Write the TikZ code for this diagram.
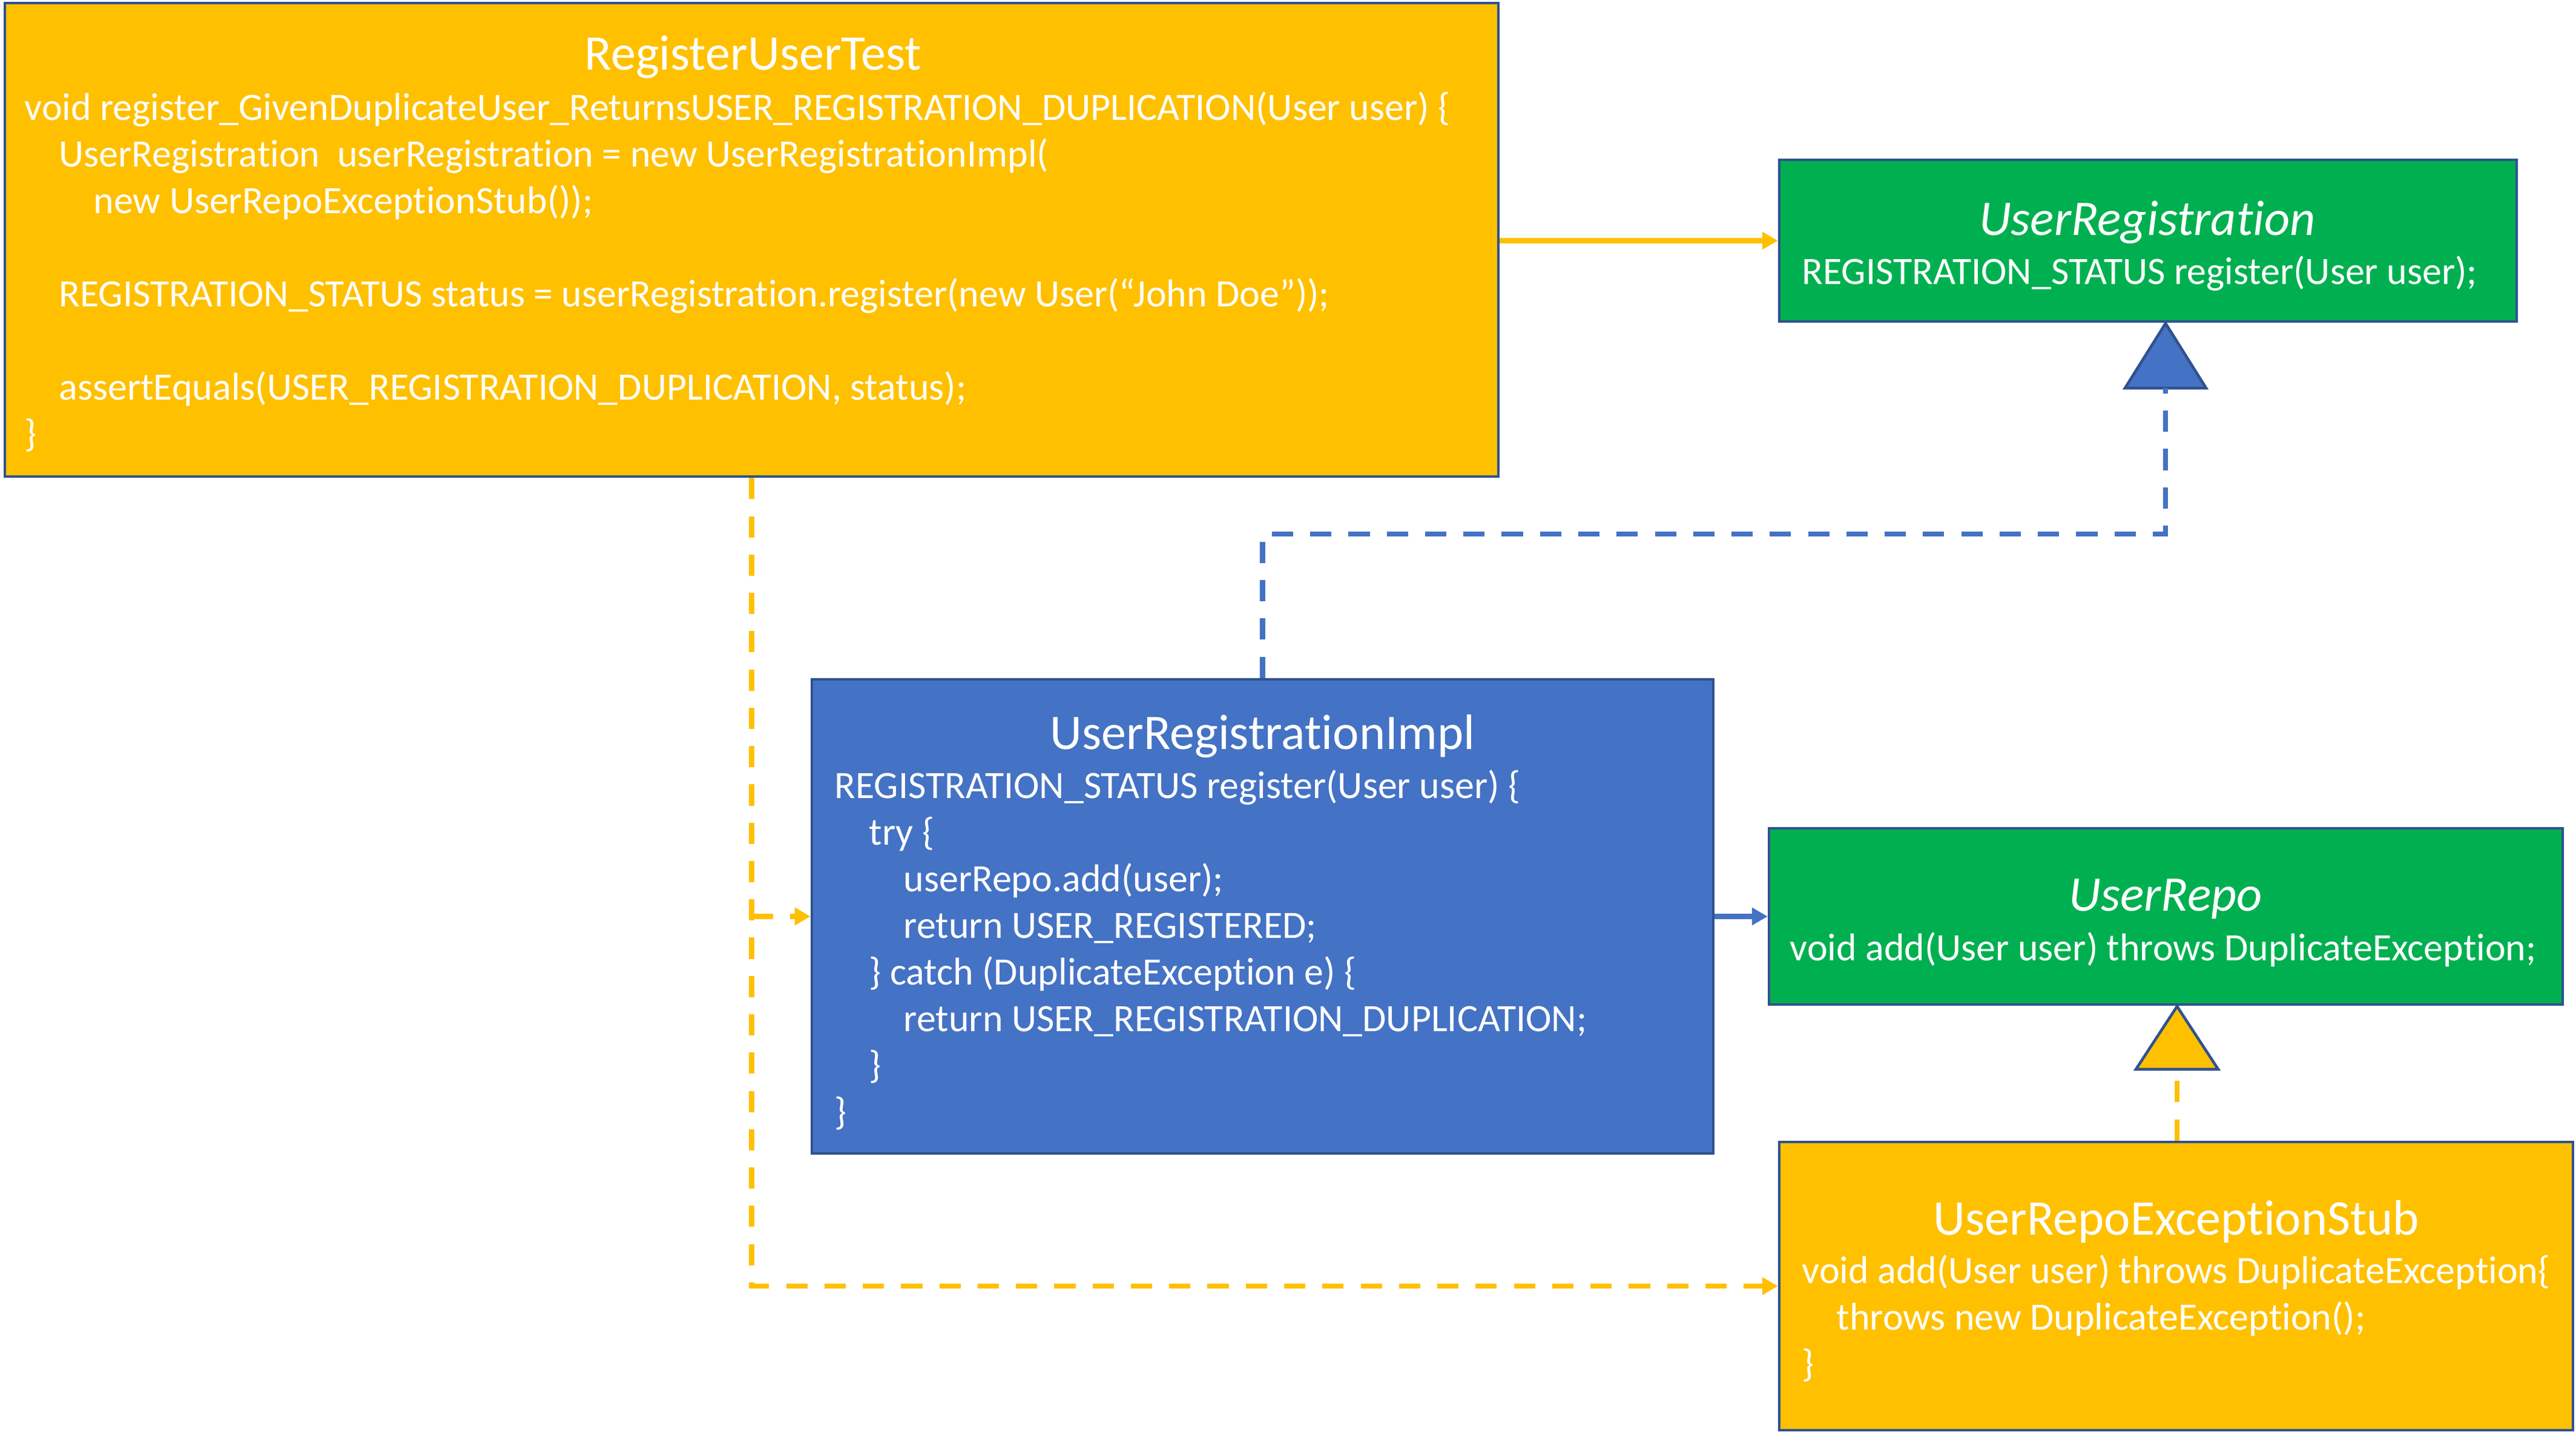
\documentclass[tikz,border=0pt]{standalone}
\usepackage{fontspec}
\setmainfont{Carlito}[Ligatures={NoCommon}]
\usetikzlibrary{arrows.meta,calc}
\definecolor{boxyellow}{HTML}{FFC000}
\definecolor{boxgreen}{HTML}{00B050}
\definecolor{boxblue}{HTML}{4472C4}
\definecolor{edgeblue}{HTML}{2F528F}
\tikzset{
  classbox/.style={draw=edgeblue, line width=1.3pt, inner sep=0pt},
  classtitle/.style={text=white, font=\fontsize{23.4}{28}\selectfont, anchor=base, inner sep=0pt},
  classbody/.style={text=white, font=\fontsize{18.2}{21.9}\selectfont, align=left, anchor=north west, inner sep=0pt},
  solidlink/.style={line width=2.5pt, -{Triangle[length=0.26cm,width=0.28cm]}},
  dashlink/.style={line width=2.5pt, dash pattern=on 10pt off 8pt},
}
\newcommand{\ind}{\hspace*{0.57cm}}
\newcommand{\topstrut}{\rule{0pt}{18pt}}
\begin{document}
\begin{tikzpicture}
    \useasboundingbox (0,0) rectangle (42.55,-23.65);
    % Draw the test class
    \node[classbox, fill=boxyellow, minimum width=24.67cm, minimum height=7.82cm] (test) at (12.415,-3.96) {};
    \node[classtitle] (testTitle) at (12.44,-1.16) {RegisterUserTest};
    \node[classbody] (testBody) at (0.40,-1.345) {\topstrut void register\_GivenDuplicateUser\_ReturnsUSER\_REGISTRATION\_DUPLICATION(User user) \{\\
      \ind UserRegistration\ \ userRegistration = new UserRegistrationImpl(\\
      \ind\ind new UserRepoExceptionStub());\\[21.9pt]
      \ind REGISTRATION\_STATUS status = userRegistration.register(new User(“John Doe”));\\[21.9pt]
      \ind assertEquals(USER\_REGISTRATION\_DUPLICATION, status);\\
      \}};

    % Draw the interface UserRegistration
    \node[classbox, fill=boxgreen, minimum width=12.18cm, minimum height=2.67cm] (reg) at (35.48,-3.975) {};
    \node[classtitle, font=\fontsize{23.4}{28}\selectfont\itshape] (regTitle) at (35.47,-3.89) {UserRegistration};
    \node[classbody] (regBody) at (29.76,-4.055) {\topstrut REGISTRATION\_STATUS register(User user);};

    % Draw the implementation
    \node[classbox, fill=boxblue, minimum width=14.89cm, minimum height=7.83cm] (impl) at (20.855,-15.135) {};
    \node[classtitle] (implTitle) at (20.855,-12.37) {UserRegistrationImpl};
    \node[classbody] (implBody) at (13.78,-12.545) {\topstrut REGISTRATION\_STATUS register(User user) \{\\
      \ind try \{\\
      \ind\ind userRepo.add(user);\\
      \ind\ind return USER\_REGISTERED;\\
      \ind \} catch (DuplicateException e) \{\\
      \ind\ind return USER\_REGISTRATION\_DUPLICATION;\\
      \ind \}\\
      \}};

    % Draw the interface UserRepo
    \node[classbox, fill=boxgreen, minimum width=13.11cm, minimum height=2.91cm] (repo) at (35.775,-15.135) {};
    \node[classtitle, font=\fontsize{23.4}{28}\selectfont\itshape] (repoTitle) at (35.77,-15.04) {UserRepo};
    \node[classbody] (repoBody) at (29.56,-15.225) {\topstrut void add(User user) throws DuplicateException;};

    % Draw the stub
    \node[classbox, fill=boxyellow, minimum width=13.11cm, minimum height=4.76cm] (stub) at (35.945,-21.24) {};
    \node[classtitle] (stubTitle) at (35.95,-20.39) {UserRepoExceptionStub};
    \node[classbody] (stubBody) at (29.76,-20.555) {\topstrut void add(User user) throws DuplicateException\{\\
      \ind throws new DuplicateException();\\
      \}};

    % Draw the two realisation triangles
    \coordinate (regTip) at (35.77,-5.34);
    \coordinate (regBase) at (35.77,-6.41);
    \coordinate (regTurn) at (35.77,-8.82);
    \draw[classbox, fill=boxblue, line join=miter] (regTip) -- ++(-0.67,-1.07) -- ++(1.34,0) -- cycle;
    \coordinate (repoTip) at (35.96,-16.62);
    \coordinate (repoBase) at (35.96,-17.66);
    \draw[classbox, fill=boxyellow, line join=miter] (repoTip) -- ++(-0.68,-1.04) -- ++(1.36,0) -- cycle;

    % Draw the arrows
    \draw[solidlink, boxyellow] (test.east |- reg.west) -- (reg.west);
    \draw[solidlink, boxblue] (impl.east) -- (repo.west);
    \draw[dashlink, boxblue] (impl.north) |- (regTurn) -- (regBase);
    \draw[dashlink, boxyellow] (stub.north -| repoBase) -- (repoBase);
    \draw[dashlink, solidlink, boxyellow] (test.south) |- (stub.west);
    \draw[dashlink, solidlink, boxyellow] (test.south |- impl.west) -- (impl.west);

\end{tikzpicture}
\end{document}
